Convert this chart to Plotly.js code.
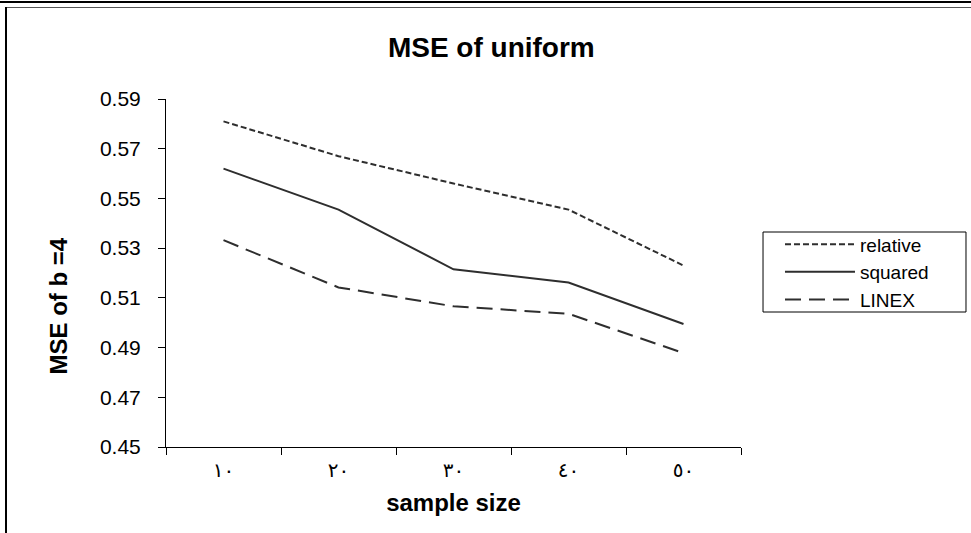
<!DOCTYPE html>
<html>
<head>
<meta charset="utf-8">
<script src="https://cdn.plot.ly/plotly-3.0.1.min.js"></script>
<style>
  html, body { margin: 0; padding: 0; background: #fff; }
  #wrap { position: relative; width: 971px; height: 533px; overflow: hidden; }
  #chart { width: 971px; height: 533px; }
  .frame { position: absolute; pointer-events: none; }
</style>
</head>
<body>
<div id="wrap">
  <div id="chart"></div>
  <div class="frame" style="left:0; top:1px; width:971px; height:2px; background:#000;"></div>
  <div class="frame" style="left:5px; top:7px; width:966px; height:1px; background:#555;"></div>
  <div class="frame" style="left:5px; top:7px; width:2px; height:526px; background:#000;"></div>
</div>
<script>
// ---- data ----
const categories = ["١٠", "٢٠", "٣٠", "٤٠", "٥٠"];
const seriesNames = ["relative", "squared", "LINEX"];
const relative = [0.581, 0.567, 0.556, 0.5455, 0.523];
const squared  = [0.562, 0.5455, 0.5215, 0.5162, 0.4995];
const linex    = [0.5332, 0.5142, 0.5066, 0.5036, 0.4878];
const yTickVals = [0.45, 0.47, 0.49, 0.51, 0.53, 0.55, 0.57, 0.59];

const lineColor = "#2e2e2e";
const traces = [
  { x: categories, y: relative, name: seriesNames[0], type: "scatter", mode: "lines",
    line: { color: lineColor, width: 2, dash: "6px,3px" } },
  { x: categories, y: squared, name: seriesNames[1], type: "scatter", mode: "lines",
    line: { color: lineColor, width: 2, dash: "solid" } },
  { x: categories, y: linex, name: seriesNames[2], type: "scatter", mode: "lines",
    line: { color: lineColor, width: 2, dash: "16px,8px" } }
];

const layout = {
  width: 971, height: 533,
  margin: { l: 166, r: 230, t: 99, b: 86, pad: 0 },
  paper_bgcolor: "#ffffff", plot_bgcolor: "#ffffff",
  font: { family: "Liberation Sans, Arial, sans-serif", color: "#000" },
  title: {
    text: "<b>MSE of uniform</b>",
    font: { size: 28, family: "Liberation Sans, Arial, sans-serif", color: "#000" },
    xref: "container", yref: "container", x: 0.506, y: 0.912, xanchor: "center", yanchor: "middle"
  },
  xaxis: {
    type: "category",
    range: [-0.5, 4.5],
    showline: true, linecolor: "#000", linewidth: 1,
    ticks: "outside", ticklen: 7, tickcolor: "#000", tickwidth: 1,
    tickson: "boundaries",
    showgrid: false, zeroline: false,
    tickfont: { family: "DejaVu Sans, sans-serif", size: 20, color: "#000" },
    ticklabelstandoff: 5,
    title: { text: "<b>sample size</b>", font: { size: 24, color: "#000" }, standoff: 13 },
    fixedrange: true
  },
  yaxis: {
    range: [0.45, 0.59],
    tickvals: yTickVals,
    ticktext: yTickVals.map(v => v.toFixed(2)),
    showline: true, linecolor: "#000", linewidth: 1,
    ticks: "outside", ticklen: 7, tickcolor: "#000", tickwidth: 1,
    showgrid: false, zeroline: false,
    tickfont: { size: 21, color: "#000" },
    ticklabelstandoff: 13,
    fixedrange: true
  },
  annotations: [{
    text: "<b>MSE of b =4</b>", textangle: -90,
    xref: "paper", yref: "paper", x: -0.187, y: 0.405,
    xanchor: "center", yanchor: "middle", showarrow: false,
    font: { size: 24, color: "#000" }
  }],
  shapes: [{
    type: "rect", xref: "paper", yref: "paper",
    x0: 1.0383, x1: 1.3913, y0: 0.3879, y1: 0.6178,
    line: { color: "#000", width: 1 }, fillcolor: "rgba(0,0,0,0)"
  }],
  showlegend: true,
  legend: {
    x: 1.0678, y: 0.637, xanchor: "left", yanchor: "top",
    borderwidth: 0, bgcolor: "rgba(0,0,0,0)",
    font: { size: 19, color: "#000" },
    itemwidth: 70, tracegroupgap: 0
  }
};

Plotly.newPlot("chart", traces, layout, { displayModeBar: false, staticPlot: true });
</script>
</body>
</html>
